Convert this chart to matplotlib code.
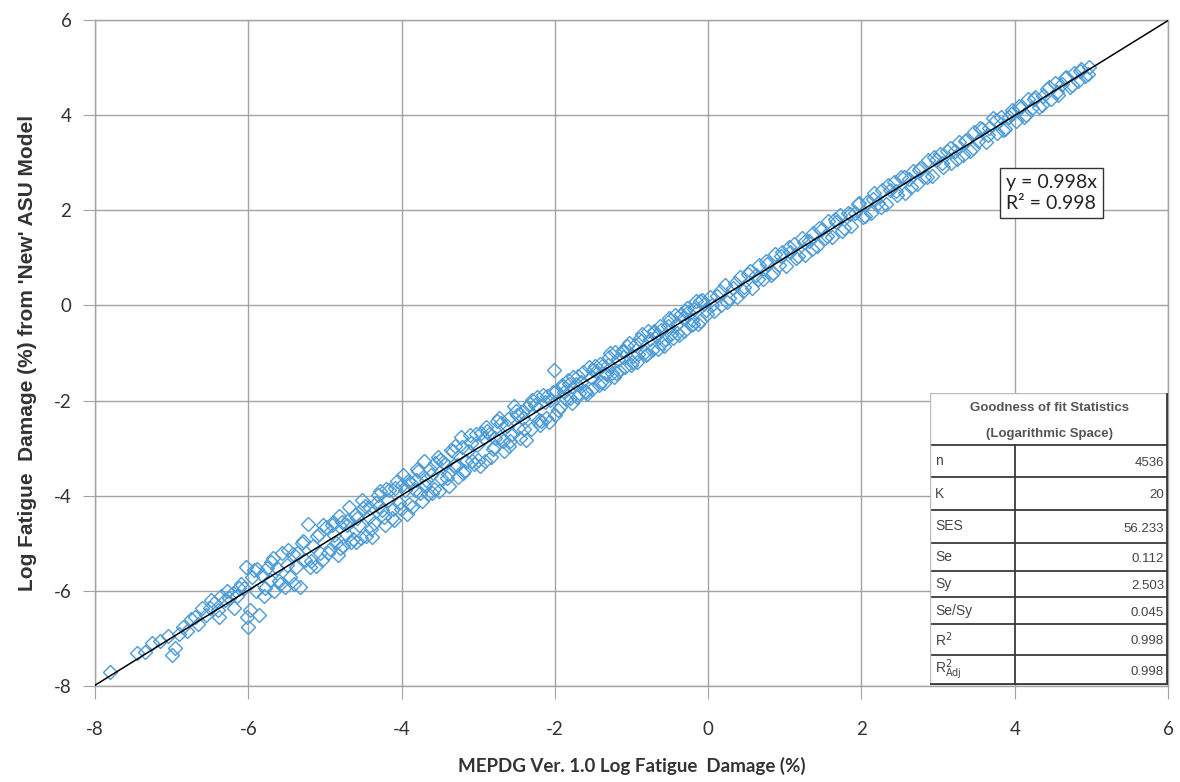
import numpy as np
import matplotlib.pyplot as plt
from matplotlib.patches import Rectangle

plt.rcParams["axes.unicode_minus"] = False

# MEPDG Ver. 1.0 log fatigue damage (x) vs 'New' ASU model (y)
mepdg_x = [
    -7.80, -7.45, -7.35, -7.25, -7.15, -7.05, -7.00, -6.95, -6.90, -6.85,
    -6.80, -6.75, -6.70, -6.65, -6.60, -6.55, -6.50, -6.45, -6.40, -6.35,
    -6.30, -6.25, -6.20, -6.15, -6.10, -6.05, -6.02, -6.00, -5.98, -5.95,
    -6.03, -6.48, -6.38, -6.28, -6.18, -6.12,
    -5.92, -5.90, -5.86, -5.82, -5.80, -5.76, -5.72, -5.70, -5.66, -5.62,
    -5.60, -5.56, -5.52, -5.50, -5.46, -5.42, -5.40, -5.36, -5.32, -5.30,
    -5.26, -5.22, -5.20, -5.16, -5.12, -5.10, -5.06, -5.02,
    -5.88, -5.78, -5.68, -5.58, -5.48, -5.38, -5.28, -5.18, -5.08, -5.04,
    -4.98, -4.93, -4.88, -4.83, -4.78, -4.73, -4.68, -4.63, -4.58, -4.53,
    -4.48, -4.43, -4.38, -4.33, -4.28, -4.23, -4.18, -4.13, -4.08, -4.03,
    -3.98, -3.93, -3.88, -3.83, -3.78, -3.73, -3.68, -3.63, -3.58, -3.53,
    -3.48, -3.43, -3.38, -3.33, -3.28, -3.23, -3.18, -3.13, -3.08, -3.03,
    -2.98, -2.93, -2.88, -2.83, -2.78, -2.73, -2.68, -2.63, -2.58, -2.53,
    -2.48, -2.43, -2.38, -2.33, -2.28, -2.23, -2.18, -2.13, -2.08, -2.03,
    -4.96, -4.91, -4.86, -4.81, -4.76, -4.71, -4.66, -4.61, -4.56, -4.51,
    -4.46, -4.41, -4.36, -4.31, -4.26, -4.21, -4.16, -4.11, -4.06, -4.01,
    -3.96, -3.91, -3.86, -3.81, -3.76, -3.71, -3.66, -3.61, -3.56, -3.51,
    -3.46, -3.41, -3.36, -3.31, -3.26, -3.21, -3.16, -3.11, -3.06, -3.01,
    -2.96, -2.91, -2.86, -2.81, -2.76, -2.71, -2.66, -2.61, -2.56, -2.51,
    -2.46, -2.41, -2.36, -2.31, -2.26, -2.21, -2.16, -2.11, -2.06, -2.01,
    -4.90, -4.80, -4.70, -4.60, -4.50, -4.40, -4.30, -4.20, -4.10, -4.00,
    -3.90, -3.80, -3.70, -3.60, -3.50, -3.40, -3.30, -3.20, -3.10, -3.00,
    -2.90, -2.80, -2.70, -2.60, -2.50, -2.40, -2.30, -2.20, -2.10, -2.00,
    -1.98, -1.93, -1.88, -1.83, -1.78, -1.73, -1.68, -1.63, -1.58, -1.53,
    -1.48, -1.43, -1.38, -1.33, -1.28, -1.23, -1.18, -1.13, -1.08, -1.03,
    -0.98, -0.93, -0.88, -0.83, -0.78, -0.73, -0.68, -0.63, -0.58, -0.53,
    -0.48, -0.43, -0.38, -0.33, -0.28, -0.23, -0.18, -0.13, -0.08, -0.03,
    -1.96, -1.91, -1.86, -1.81, -1.76, -1.71, -1.66, -1.61, -1.56, -1.51,
    -1.46, -1.41, -1.36, -1.31, -1.26, -1.21, -1.16, -1.11, -1.06, -1.01,
    -0.96, -0.91, -0.86, -0.81, -0.76, -0.71, -0.66, -0.61, -0.56, -0.51,
    -0.46, -0.41, -0.36, -0.31, -0.26, -0.21, -0.16, -0.11, -0.06, -0.01,
    -1.90, -1.80, -1.70, -1.60, -1.50, -1.40, -1.30, -1.20, -1.10, -1.00,
    -0.90, -0.80, -0.70, -0.60, -0.50, -0.40, -0.30, -0.20, -0.10,
    0.02, 0.07, 0.12, 0.17, 0.22, 0.27, 0.32, 0.37, 0.42, 0.47,
    0.52, 0.57, 0.62, 0.67, 0.72, 0.77, 0.82, 0.87, 0.92, 0.97,
    1.02, 1.07, 1.12, 1.17, 1.22, 1.27, 1.32, 1.37, 1.42, 1.47,
    1.52, 1.57, 1.62, 1.67, 1.72, 1.77, 1.82, 1.87, 1.92, 1.97,
    2.02, 2.07, 2.12, 2.17, 2.22, 2.27, 2.32, 2.37, 2.42, 2.47,
    2.52, 2.57, 2.62, 2.67, 2.72, 2.77, 2.82, 2.87, 2.92, 2.97,
    3.02, 3.07, 3.12, 3.17, 3.22, 3.27, 3.32, 3.37, 3.42, 3.47,
    3.52, 3.57, 3.62, 3.67, 3.72, 3.77, 3.82, 3.87, 3.92, 3.97,
    4.02, 4.07, 4.12, 4.17, 4.22, 4.27, 4.32, 4.37, 4.42, 4.47,
    4.52, 4.57, 4.62, 4.67, 4.72, 4.77, 4.82, 4.87, 4.92, 4.97,
    0.05, 0.15, 0.25, 0.35, 0.45, 0.55, 0.65, 0.75, 0.85, 0.95,
    1.05, 1.15, 1.25, 1.35, 1.45, 1.55, 1.65, 1.75, 1.85, 1.95,
    2.05, 2.15, 2.25, 2.35, 2.45, 2.55, 2.65, 2.75, 2.85, 2.95,
    3.05, 3.15, 3.25, 3.35, 3.45, 3.55, 3.65, 3.75, 3.85, 3.95,
    4.05, 4.15, 4.25, 4.35, 4.45, 4.55, 4.65, 4.75, 4.85, 4.95,
]
asu_y = [
    -7.70, -7.30, -7.28, -7.10, -7.05, -6.95, -7.35, -7.20, -6.90, -6.75,
    -6.85, -6.60, -6.55, -6.70, -6.35, -6.50, -6.35, -6.25, -6.40, -6.10,
    -6.20, -6.15, -6.05, -6.10, -5.85, -5.95, -6.55, -6.75, -6.40, -5.70,
    -5.50, -6.20, -6.55, -6.00, -6.36, -5.95,
    -5.57, -6.00, -6.50, -5.67, -6.10, -5.51, -5.77, -5.40, -6.01, -5.52,
    -5.80, -5.21, -5.92, -5.45, -5.71, -5.22, -5.85, -5.21, -5.92, -5.00,
    -5.36, -4.60, -5.50, -5.06, -5.47, -4.85, -5.21, -4.62,
    -5.55, -5.95, -5.30, -5.85, -5.15, -5.50, -4.95, -5.38, -4.80, -5.35,
    -4.66, -5.11, -4.83, -5.24, -4.56, -4.80, -4.24, -4.92, -4.46, -4.89,
    -4.21, -4.45, -4.86, -4.15, -3.90, -4.45, -4.10, -4.46, -3.83, -4.15,
    -3.57, -4.38, -3.73, -3.88, -3.48, -4.11, -3.66, -3.43, -3.85, -3.18,
    -3.63, -3.33, -3.80, -3.05, -3.36, -2.77, -3.49, -3.07, -3.28, -2.70,
    -3.38, -2.79, -2.64, -3.18, -2.78, -2.36, -2.85, -2.54, -2.86, -2.11,
    -2.58, -2.24, -2.82, -2.07, -2.31, -1.92, -2.42, -2.02, -2.45, -1.82,
    -5.20, -4.61, -5.00, -4.43, -5.05, -4.62, -4.98, -4.40, -4.61, -4.10,
    -4.84, -4.25, -4.58, -3.98, -4.30, -4.61, -3.89, -4.27, -3.70, -4.27,
    -3.89, -3.70, -4.23, -3.68, -3.95, -3.27, -3.96, -3.57, -3.31, -3.90,
    -3.29, -3.63, -3.04, -3.36, -3.60, -2.98, -3.28, -2.72, -3.33, -2.93,
    -2.68, -3.27, -2.71, -3.01, -2.42, -2.77, -3.05, -2.39, -2.70, -2.21,
    -2.78, -2.36, -2.13, -2.60, -2.10, -2.40, -1.88, -2.36, -1.98, -1.36,
    -4.55, -5.10, -4.52, -4.98, -4.25, -4.70, -4.22, -3.85, -4.50, -3.78,
    -4.18, -3.44, -3.80, -3.95, -3.24, -3.55, -2.95, -3.52, -2.90, -3.25,
    -2.55, -2.98, -2.48, -2.95, -2.30, -2.60, -1.98, -2.52, -1.90, -2.30,
    -1.80, -2.14, -1.83, -1.57, -2.05, -1.65, -1.84, -1.40, -1.87, -1.51,
    -1.28, -1.67, -1.27, -1.45, -1.01, -1.51, -1.12, -0.96, -1.30, -0.79,
    -1.06, -1.19, -0.74, -0.98, -0.53, -0.94, -0.65, -0.43, -0.85, -0.43,
    -0.61, -0.20, -0.62, -0.26, -0.05, -0.41, -0.07, -0.38, 0.12, -0.10,
    -2.20, -1.68, -1.96, -1.66, -1.50, -1.93, -1.62, -1.80, -1.30, -1.76,
    -1.37, -1.23, -1.63, -1.25, -1.42, -0.98, -1.38, -1.08, -0.86, -1.26,
    -0.84, -1.02, -0.60, -1.04, -0.71, -0.53, -0.92, -0.52, -0.71, -0.27,
    -0.69, -0.39, -0.17, -0.53, -0.13, -0.31, 0.09, -0.32, 0.02, -0.18,
    -1.70, -1.95, -1.48, -1.82, -1.35, -1.60, -1.08, -1.42, -0.95, -1.18,
    -0.70, -1.02, -0.55, -0.78, -0.30, -0.58, -0.12, -0.40, 0.10,
    0.18, -0.12, 0.20, 0.00, 0.43, 0.15, 0.37, 0.17, 0.60, 0.38,
    0.66, 0.36, 0.65, 0.86, 0.56, 0.87, 0.64, 1.08, 0.85, 1.12,
    0.82, 1.13, 1.30, 1.03, 1.42, 1.06, 1.36, 1.53, 1.25, 1.58,
    1.41, 1.78, 1.43, 1.75, 1.90, 1.62, 1.95, 1.67, 1.94, 2.16,
    1.86, 2.17, 1.94, 2.37, 2.15, 2.42, 2.13, 2.43, 2.59, 2.33,
    2.70, 2.37, 2.66, 2.83, 2.55, 2.88, 2.71, 3.06, 2.73, 3.05,
    3.18, 2.92, 3.25, 2.99, 3.24, 3.44, 3.17, 3.47, 3.25, 3.65,
    3.45, 3.71, 3.44, 3.72, 3.93, 3.63, 3.97, 3.70, 3.96, 4.10,
    3.87, 4.16, 3.96, 4.33, 4.16, 4.39, 4.17, 4.41, 4.56, 4.34,
    4.67, 4.43, 4.66, 4.80, 4.60, 4.88, 4.71, 4.97, 4.83, 5.02,
    0.00, 0.30, 0.08, 0.47, 0.31, 0.72, 0.55, 0.93, 0.69, 1.03,
    1.22, 0.99, 1.33, 1.18, 1.63, 1.46, 1.81, 1.57, 1.92, 2.13,
    1.89, 2.24, 2.07, 2.53, 2.40, 2.71, 2.48, 2.85, 2.69, 3.12,
    3.00, 3.30, 3.08, 3.45, 3.30, 3.72, 3.58, 3.89, 3.68, 4.03,
    4.20, 4.01, 4.33, 4.21, 4.59, 4.48, 4.78, 4.63, 4.92, 4.87,
]

slope = 0.998
fit_x = [-8, 6]
axis_ticks = [-8, -6, -4, -2, 0, 2, 4, 6]

stat_names = ["n", "K", "SES", "Se", "Sy", "Se/Sy", r"R$^{2}$", r"R$^{2}_{\mathrm{Adj}}$"]
stat_values = ["4536", "20", "56.233", "0.112", "2.503", "0.045", "0.998", "0.998"]

W, H = 1180, 782
fig = plt.figure(figsize=(W / 100, H / 100), dpi=100)
ax = fig.add_axes([95 / W, 1 - 686 / H, (1168 - 95) / W, (686 - 20) / H])

grid_c = "#a3a3a3"
blue = "#4b9bd6"

ax.plot(mepdg_x, asu_y, linestyle="none", marker="D", ms=6.8,
        mfc="none", mec=blue, mew=1.0, zorder=3)
ax.plot(fit_x, [slope * v for v in fit_x], color="black", lw=1.1, zorder=4)

ax.set_xlim(-8, 6)
ax.set_ylim(-8, 6)
ax.set_xticks(axis_ticks)
ax.set_yticks(axis_ticks)
ax.grid(True, color=grid_c, lw=1.0)
ax.set_axisbelow(True)
for s in ax.spines.values():
    s.set_color(grid_c)
    s.set_linewidth(1.0)
ax.tick_params(axis="both", direction="out", length=9, color=grid_c,
               labelsize=13.5, labelcolor="#333333")
ax.tick_params(axis="x", pad=16)
ax.tick_params(axis="y", pad=8)
for lab in ax.get_xticklabels() + ax.get_yticklabels():
    lab.set_family(["Lato", "DejaVu Sans"])

ax.set_xlabel("MEPDG Ver. 1.0 Log Fatigue  Damage (%)", fontsize=13.5,
              fontweight="bold", color="#333333", family=["Lato", "DejaVu Sans"],
              labelpad=14)
ax.set_ylabel("Log Fatigue  Damage (%) from 'New' ASU Model", fontsize=15,
              fontweight="bold", color="#333333",
              family=["Liberation Sans", "DejaVu Sans"], labelpad=12)

# equation box
eq = fig.text(1006 / W, 1 - 193 / H, "y = 0.998x\nR² = 0.998", fontsize=14,
              family=["Lato", "DejaVu Sans"], color="#222222", va="center",
              ha="left", linespacing=1.3,
              bbox=dict(boxstyle="square,pad=0.3", fc="white", ec="#333333",
                        lw=1.0))

# goodness-of-fit table
tx0, ty0, tw, th = 930, 393, 238, 292
tab = fig.add_axes([tx0 / W, 1 - (ty0 + th) / H, tw / W, th / H])
tab.set_xlim(0, tw)
tab.set_ylim(th, 0)
tab.axis("off")
tab.add_patch(Rectangle((0, 0), tw, th, fc="white", ec="none", zorder=1))
row_edges = [52, 84, 117, 150, 178, 204, 231, 262, 292]
line_c = "#3a3a3a"
for r in row_edges[:-1]:
    tab.plot([0, tw], [r, r], color=line_c, lw=1.3, zorder=2)
tab.plot([0, 0], [0, th], color="#bbbbbb", lw=1.0, zorder=2)
tab.plot([0, tw], [0, 0], color="#bbbbbb", lw=1.0, zorder=2)
tab.plot([tw - 1, tw - 1], [0, th], color=line_c, lw=2.0, zorder=2)
tab.plot([0, tw], [th - 1, th - 1], color=line_c, lw=2.0, zorder=2)
tab.plot([85, 85], [52, th], color=line_c, lw=1.3, zorder=2)
tfont = ["Liberation Sans", "DejaVu Sans"]
tab.text(tw / 2, 15, "Goodness of fit Statistics", ha="center", va="center",
         fontsize=9.5, fontweight="bold", color="#555555", family=tfont)
tab.text(tw / 2, 41, "(Logarithmic Space)", ha="center", va="center",
         fontsize=9.5, fontweight="bold", color="#555555", family=tfont)
for i, (nm, val) in enumerate(zip(stat_names, stat_values)):
    yc = (row_edges[i] + row_edges[i + 1]) / 2
    tab.text(5, yc, nm, ha="left", va="center", fontsize=10,
             color="#444444", family=tfont)
    tab.text(tw - 4, yc + 2, val, ha="right", va="center", fontsize=9.5,
             color="#444444", family=tfont)

fig.savefig("out.png", dpi=100)
